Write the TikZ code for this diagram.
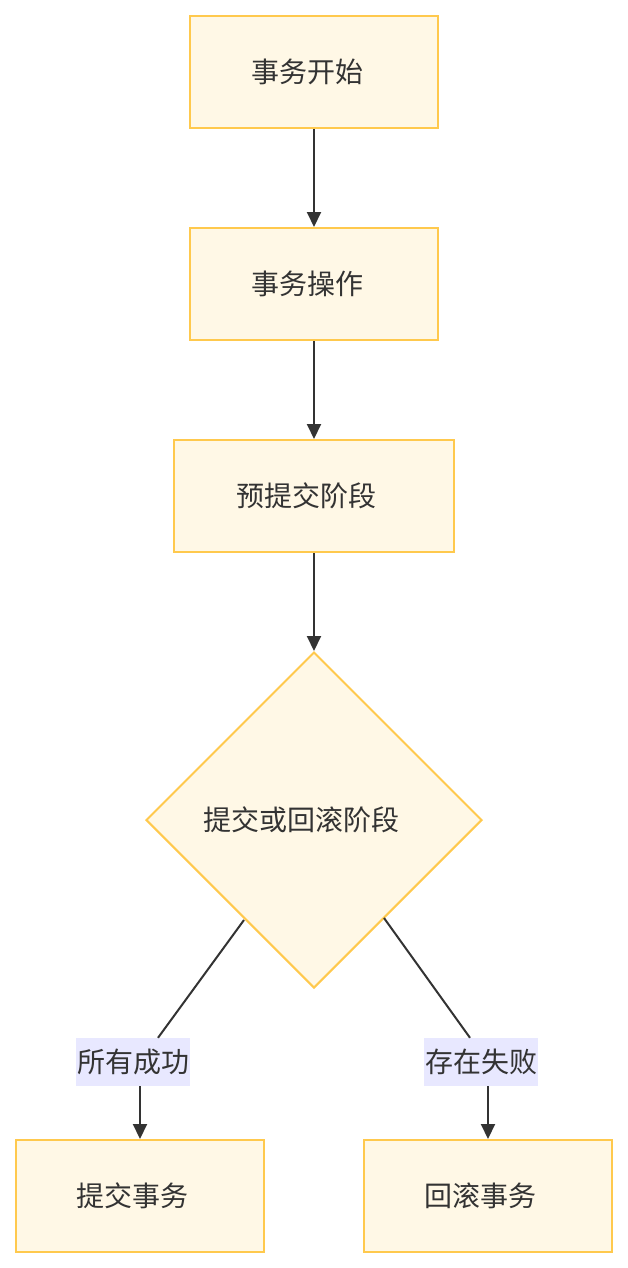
\documentclass[tikz,border=0pt]{standalone}
\usepackage{fontspec}
\newfontfamily\cjk{Noto Sans CJK SC}
\usetikzlibrary{shapes.geometric,arrows.meta}
\definecolor{boxfill}{HTML}{FFF8E6}
\definecolor{boxline}{HTML}{FFC94D}
\definecolor{lblfill}{HTML}{E8E8FF}
\definecolor{ink}{HTML}{333333}
\newcommand{\shl}[1]{\hspace*{-#1pt}}
\tikzset{
  stepbox/.style={draw=boxline, fill=boxfill, line width=2pt, minimum width=248pt, minimum height=112pt, inner sep=0pt, text=ink, font=\cjk\fontsize{28}{34}\selectfont},
  decide/.style={draw=boxline, fill=boxfill, line width=2pt, diamond, minimum width=336pt, minimum height=336pt, inner sep=0pt, text=ink, font=\cjk\fontsize{28}{34}\selectfont},
  lbl/.style={fill=lblfill, inner sep=0pt, minimum height=48pt, minimum width=114pt, text=ink, font=\cjk\fontsize{28}{34}\selectfont},
  conn/.style={draw=ink, line width=2pt},
  arr/.style={conn, -{Triangle[length=15pt,width=14pt]}}
}
\begin{document}
\begin{tikzpicture}[x=1pt,y=-1pt]
\useasboundingbox (0,0) rectangle (628,1268);
\node[stepbox] (a) at (314,72) {\shl{14}事务开始};
\node[stepbox] (b) at (314,284) {\shl{14}事务操作};
\node[stepbox, minimum width=280pt] (c) at (314,496) {\shl{16}预提交阶段};
\node[decide] (d) at (314,820) {\shl{25}提交或回滚阶段};
\node[stepbox] (e) at (140,1196) {\shl{15}提交事务};
\node[stepbox] (f) at (488,1196) {\shl{15}回滚事务};
\node[lbl] (l1) at (133,1062) {所有成功};
\node[lbl] (l2) at (481,1062) {存在失败};
\coordinate (dl) at (244,920);
\coordinate (dr) at (384,918);
\draw[arr] (a.south) -- (b.north);
\draw[arr] (b.south) -- (c.north);
\draw[arr] (c.south) -- (d.north);
\draw[conn] (dl) -- (l1.north -| 158,0);
\draw[conn] (dr) -- (l2.north -| 470,0);
\draw[arr] (l1.south -| e.north) -- (e.north);
\draw[arr] (l2.south -| f.north) -- (f.north);
\end{tikzpicture}
\end{document}
